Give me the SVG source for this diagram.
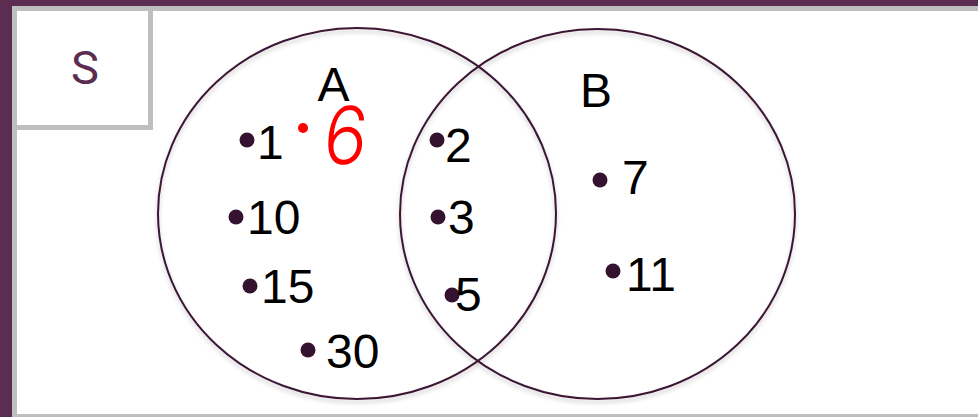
<svg xmlns="http://www.w3.org/2000/svg" width="978" height="417" viewBox="0 0 978 417">
<style>
.frame{fill:#5a2d51}
.gray{fill:#bfbfbf}
.set{fill:none;stroke:#3b1534;stroke-width:2}
.lbl{font-family:"Liberation Sans",Arial,sans-serif;font-size:48px;fill:#000}
.dot{fill:#35122f}
.s{font-family:Roboto,"Liberation Sans",sans-serif;font-size:47px;fill:#5a2d51}
</style>
<defs>
<filter id="sh" x="-10%" y="-10%" width="120%" height="120%">
<feDropShadow dx="0" dy="3" stdDeviation="2" flood-color="#000" flood-opacity="0.22"/>
</filter>
</defs>
<rect width="978" height="417" fill="#fff"/>
<rect class="frame" x="0" y="0" width="978" height="6"/>
<rect class="frame" x="0" y="0" width="12" height="417"/>
<rect class="gray" x="12" y="6" width="966" height="5"/>
<rect class="gray" x="12" y="6" width="5" height="411"/>
<rect class="gray" x="12" y="414" width="966" height="3"/>
<g id="universe">
<rect x="14.5" y="8.5" width="136" height="119" fill="#fff" stroke="#bfbfbf" stroke-width="5"/>
<text class="s" x="85" y="84" text-anchor="middle">S</text>
</g>
<g id="setA">
<ellipse class="set" cx="357" cy="213.5" rx="199" ry="185.5" filter="url(#sh)"/>
<text class="lbl" x="333.5" y="101" text-anchor="middle">A</text>
</g>
<g id="setB">
<ellipse class="set" cx="597.5" cy="214" rx="197.5" ry="185" filter="url(#sh)"/>
<text class="lbl" x="580" y="107">B</text>
</g>
<g id="e1"><circle class="dot" cx="247" cy="140" r="7.5"/><text class="lbl" x="257" y="159">1</text></g>
<g id="e10"><circle class="dot" cx="236" cy="217" r="7.5"/><text class="lbl" x="247" y="234">10</text></g>
<g id="e15"><circle class="dot" cx="250" cy="286" r="7.5"/><text class="lbl" x="261" y="303">15</text></g>
<g id="e30"><circle class="dot" cx="308" cy="350" r="7.5"/><text class="lbl" x="326" y="368">30</text></g>
<g id="e2"><circle class="dot" cx="437" cy="140" r="7.5"/><text class="lbl" x="445" y="162">2</text></g>
<g id="e3"><circle class="dot" cx="438" cy="217" r="7.5"/><text class="lbl" x="448" y="234">3</text></g>
<g id="e5"><circle class="dot" cx="452" cy="295" r="7.5"/><text class="lbl" x="455" y="311">5</text></g>
<g id="e7"><circle class="dot" cx="600" cy="180" r="7.5"/><text class="lbl" x="622" y="194">7</text></g>
<g id="e11"><circle class="dot" cx="613" cy="271" r="7.5"/><text class="lbl" x="626" y="291">11</text></g>
<g id="annotation">
<circle cx="303" cy="128" r="5" fill="#ff0000"/>
<text x="343" y="164" text-anchor="middle" font-family="Inter,'Open Sans',sans-serif" font-weight="300" font-size="76" fill="#ff0000" transform="translate(343 164) skewX(-6) scale(0.95 1.05) translate(-343 -164)">6</text>
</g>
</svg>
